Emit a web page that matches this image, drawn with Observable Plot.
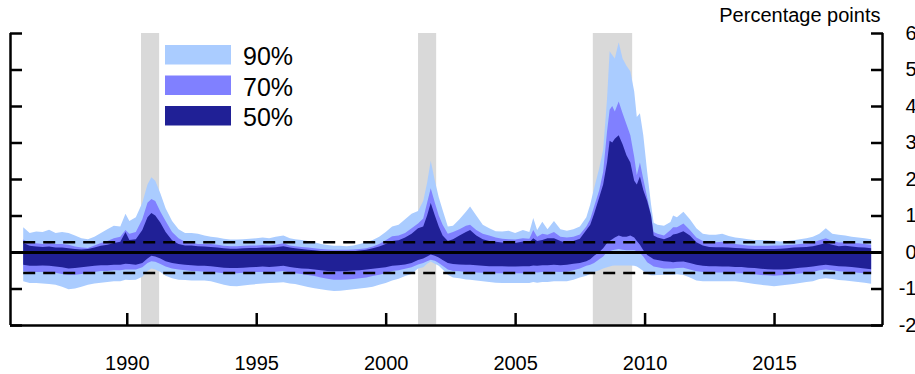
<!DOCTYPE html>
<html>
<head>
<meta charset="utf-8">
<script src="https://cdn.jsdelivr.net/npm/d3@7"></script>
<script src="https://cdn.jsdelivr.net/npm/@observablehq/plot@0.6"></script>
<style>
  body { margin: 0; background: #fff; }
  #wrap { position: relative; width: 915px; height: 374px; font-family: "Liberation Sans", Arial, sans-serif; }
  #legend { position: absolute; left: 0; top: 0; pointer-events: none; }
</style>
</head>
<body>
<div id="wrap"></div>
<script>
// ---- data ----
const t = [1986.0,1986.25,1986.5,1986.75,1987.0,1987.25,1987.5,1987.75,1988.0,1988.25,1988.5,1988.75,
1989.0,1989.25,1989.5,1989.75,1989.95,1990.1,1990.35,1990.6,1990.8,1990.95,1991.1,1991.3,1991.5,1991.75,
1992.0,1992.25,1992.5,1992.75,1993.0,1993.25,1993.5,1993.75,1994.0,1994.25,1994.5,1994.75,
1995.0,1995.25,1995.5,1995.75,1996.05,1996.3,1996.5,1996.75,1997.0,1997.25,1997.5,1997.75,
1998.0,1998.25,1998.5,1998.75,1999.0,1999.25,1999.5,1999.75,2000.0,2000.25,2000.5,2000.75,
2001.0,2001.25,2001.45,2001.6,2001.74,2001.9,2002.05,2002.2,2002.4,2002.6,2002.85,2003.1,2003.26,2003.5,2003.75,
2004.0,2004.25,2004.5,2004.75,2005.0,2005.3,2005.55,2005.7,2005.85,2006.05,2006.25,2006.5,2006.75,
2007.0,2007.25,2007.5,2007.75,2007.9,2008.05,2008.25,2008.4,2008.55,2008.65,2008.75,2008.85,2009.0,
2009.15,2009.3,2009.45,2009.6,2009.7,2009.82,2009.95,2010.1,2010.25,2010.35,2010.5,2010.75,
2011.0,2011.1,2011.25,2011.5,2011.75,2012.0,2012.25,2012.5,2012.75,2013.0,2013.25,2013.5,2013.75,
2014.0,2014.25,2014.5,2014.75,2015.0,2015.25,2015.5,2015.75,2016.0,2016.25,2016.5,2016.75,
2017.0,2017.25,2017.5,2017.75,2018.0,2018.25,2018.5,2018.75];

const upper90 = [0.68,0.52,0.56,0.55,0.61,0.52,0.55,0.52,0.45,0.38,0.35,0.42,
0.52,0.62,0.72,0.70,1.05,0.85,0.95,1.35,1.85,2.05,1.95,1.60,1.20,0.85,
0.62,0.52,0.52,0.50,0.45,0.42,0.40,0.36,0.34,0.34,0.35,0.36,
0.38,0.40,0.38,0.42,0.45,0.38,0.35,0.33,0.30,0.27,0.22,0.19,
0.17,0.17,0.16,0.18,0.22,0.27,0.33,0.42,0.55,0.70,0.75,0.90,
1.05,1.12,1.40,1.90,2.50,1.95,1.50,1.15,0.70,0.72,0.90,1.10,1.25,1.00,0.75,
0.65,0.57,0.56,0.58,0.52,0.60,0.55,0.93,0.60,0.83,0.62,0.85,0.62,
0.58,0.62,0.70,0.95,1.30,1.75,2.30,2.80,4.20,5.50,5.40,5.30,5.75,
5.30,5.10,4.95,4.40,3.70,3.80,3.20,2.20,1.30,0.80,0.75,0.72,
0.82,1.00,0.95,1.10,0.90,0.65,0.50,0.47,0.47,0.50,0.44,0.40,0.38,
0.35,0.33,0.33,0.32,0.31,0.29,0.30,0.32,0.35,0.38,0.42,0.50,
0.65,0.50,0.47,0.45,0.42,0.40,0.38,0.35];

const upper70 = [0.34,0.25,0.24,0.22,0.25,0.22,0.22,0.20,0.15,0.12,0.11,0.18,
0.25,0.30,0.38,0.42,0.60,0.50,0.55,0.90,1.35,1.45,1.40,1.10,0.85,0.55,
0.38,0.28,0.26,0.22,0.22,0.22,0.20,0.17,0.16,0.16,0.17,0.18,
0.18,0.19,0.18,0.20,0.24,0.18,0.16,0.14,0.12,0.10,0.08,0.07,
0.06,0.06,0.06,0.07,0.08,0.10,0.15,0.22,0.32,0.43,0.45,0.52,
0.65,0.78,0.92,1.35,1.75,1.35,1.00,0.75,0.50,0.55,0.62,0.72,0.75,0.60,0.50,
0.45,0.40,0.36,0.35,0.34,0.38,0.36,0.60,0.42,0.50,0.47,0.55,0.42,
0.40,0.42,0.48,0.70,0.90,1.25,1.70,2.20,3.30,3.90,4.00,3.85,4.12,
3.80,3.50,3.20,2.60,2.10,2.45,2.00,1.50,1.00,0.55,0.50,0.45,
0.60,0.68,0.68,0.78,0.60,0.40,0.30,0.26,0.27,0.28,0.24,0.22,0.20,
0.18,0.17,0.17,0.17,0.18,0.18,0.19,0.20,0.22,0.23,0.26,0.32,
0.38,0.30,0.26,0.27,0.25,0.24,0.22,0.20];

const upper50 = [0.25,0.17,0.15,0.14,0.15,0.12,0.12,0.10,0.08,0.07,0.08,0.12,
0.17,0.20,0.25,0.28,0.55,0.33,0.35,0.60,0.95,1.07,1.00,0.80,0.55,0.32,
0.22,0.18,0.18,0.16,0.15,0.14,0.12,0.10,0.09,0.09,0.10,0.11,
0.11,0.12,0.12,0.13,0.16,0.12,0.10,0.08,0.06,0.05,0.03,0.02,
0.01,0.01,0.01,0.02,0.04,0.06,0.10,0.15,0.22,0.30,0.32,0.40,
0.50,0.65,0.70,1.00,1.34,1.00,0.70,0.45,0.30,0.35,0.45,0.55,0.60,0.45,0.35,
0.30,0.28,0.26,0.25,0.25,0.29,0.27,0.38,0.30,0.33,0.38,0.38,0.30,
0.25,0.30,0.36,0.60,0.75,1.05,1.50,1.85,2.45,3.05,3.00,3.10,3.20,
2.95,2.65,2.45,1.95,1.85,2.07,1.70,1.40,1.00,0.45,0.40,0.35,
0.42,0.48,0.50,0.57,0.45,0.27,0.18,0.14,0.13,0.13,0.12,0.11,0.10,
0.09,0.08,0.08,0.08,0.08,0.09,0.10,0.12,0.13,0.14,0.16,0.20,
0.25,0.20,0.16,0.17,0.15,0.13,0.12,0.10];

const lower50 = [-0.35,-0.38,-0.38,-0.37,-0.38,-0.40,-0.42,-0.45,-0.44,-0.42,-0.40,-0.38,
-0.36,-0.36,-0.35,-0.35,-0.32,-0.33,-0.35,-0.30,-0.18,-0.10,-0.12,-0.18,-0.25,-0.30,
-0.33,-0.35,-0.36,-0.38,-0.38,-0.39,-0.41,-0.43,-0.44,-0.44,-0.43,-0.42,
-0.41,-0.40,-0.41,-0.40,-0.38,-0.41,-0.43,-0.45,-0.46,-0.48,-0.50,-0.52,
-0.53,-0.53,-0.52,-0.51,-0.50,-0.48,-0.46,-0.44,-0.42,-0.38,-0.36,-0.34,
-0.30,-0.22,-0.18,-0.12,-0.07,-0.10,-0.15,-0.22,-0.30,-0.33,-0.34,-0.35,-0.35,-0.36,-0.38,
-0.39,-0.39,-0.39,-0.40,-0.40,-0.39,-0.39,-0.37,-0.38,-0.36,-0.36,-0.35,-0.36,
-0.35,-0.32,-0.30,-0.25,-0.20,-0.10,0.00,0.10,0.25,0.30,0.35,0.40,0.45,
0.42,0.42,0.45,0.40,0.30,0.20,0.05,-0.08,-0.15,-0.20,-0.22,-0.25,
-0.27,-0.28,-0.27,-0.26,-0.30,-0.35,-0.38,-0.39,-0.39,-0.40,-0.40,-0.41,-0.41,
-0.43,-0.44,-0.46,-0.47,-0.48,-0.48,-0.47,-0.45,-0.43,-0.42,-0.40,-0.37,
-0.35,-0.37,-0.39,-0.40,-0.41,-0.43,-0.45,-0.47];

const lower70 = [-0.53,-0.55,-0.55,-0.55,-0.55,-0.57,-0.60,-0.62,-0.62,-0.60,-0.57,-0.55,
-0.52,-0.52,-0.50,-0.50,-0.48,-0.48,-0.48,-0.42,-0.30,-0.25,-0.27,-0.33,-0.40,-0.45,
-0.48,-0.50,-0.52,-0.53,-0.54,-0.55,-0.56,-0.58,-0.58,-0.58,-0.57,-0.56,
-0.55,-0.55,-0.55,-0.54,-0.52,-0.56,-0.58,-0.60,-0.63,-0.66,-0.70,-0.73,
-0.76,-0.76,-0.75,-0.74,-0.72,-0.70,-0.66,-0.62,-0.58,-0.52,-0.50,-0.46,
-0.42,-0.34,-0.30,-0.25,-0.21,-0.24,-0.30,-0.38,-0.48,-0.52,-0.53,-0.55,-0.55,-0.56,-0.57,
-0.58,-0.58,-0.58,-0.58,-0.58,-0.58,-0.58,-0.55,-0.56,-0.55,-0.55,-0.54,-0.55,
-0.54,-0.50,-0.45,-0.38,-0.35,-0.30,-0.20,-0.12,0.00,0.02,0.05,0.06,0.08,
0.06,0.05,0.05,0.05,0.02,-0.03,-0.12,-0.28,-0.35,-0.40,-0.42,-0.45,
-0.45,-0.45,-0.44,-0.43,-0.48,-0.53,-0.55,-0.56,-0.56,-0.56,-0.57,-0.58,-0.58,
-0.60,-0.61,-0.63,-0.64,-0.65,-0.64,-0.63,-0.61,-0.59,-0.57,-0.55,-0.50,
-0.48,-0.50,-0.53,-0.54,-0.55,-0.57,-0.58,-0.60];

const lower90 = [-0.80,-0.85,-0.85,-0.86,-0.88,-0.90,-0.95,-1.02,-1.00,-0.95,-0.90,-0.86,
-0.84,-0.82,-0.80,-0.80,-0.76,-0.77,-0.76,-0.68,-0.52,-0.45,-0.48,-0.55,-0.65,-0.72,
-0.76,-0.77,-0.78,-0.78,-0.78,-0.80,-0.85,-0.90,-0.93,-0.94,-0.92,-0.90,
-0.88,-0.86,-0.85,-0.84,-0.83,-0.86,-0.88,-0.92,-0.96,-0.99,-1.02,-1.05,
-1.07,-1.06,-1.04,-1.02,-1.00,-0.98,-0.95,-0.90,-0.85,-0.78,-0.73,-0.66,
-0.60,-0.45,-0.42,-0.32,-0.26,-0.32,-0.38,-0.48,-0.62,-0.70,-0.72,-0.75,-0.76,-0.78,-0.80,
-0.82,-0.84,-0.85,-0.85,-0.85,-0.85,-0.85,-0.82,-0.84,-0.82,-0.82,-0.80,-0.80,
-0.80,-0.76,-0.70,-0.65,-0.60,-0.55,-0.50,-0.45,-0.42,-0.40,-0.38,-0.37,-0.37,
-0.37,-0.37,-0.37,-0.38,-0.40,-0.45,-0.52,-0.60,-0.64,-0.64,-0.63,-0.62,
-0.62,-0.62,-0.61,-0.63,-0.70,-0.78,-0.80,-0.80,-0.80,-0.80,-0.80,-0.80,-0.82,
-0.85,-0.88,-0.90,-0.92,-0.94,-0.92,-0.90,-0.88,-0.85,-0.82,-0.80,-0.74,
-0.72,-0.74,-0.77,-0.78,-0.80,-0.82,-0.84,-0.87];

const recessionStart = [1990.55, 2001.25, 2008.0];
const recessionEnd   = [1991.25, 2001.95, 2009.52];

const bandLabels = ["90%", "70%", "50%"];
const bandColors = ["#aaccff", "#8080ff", "#202096"];

const xTicks = [1990, 1995, 2000, 2005, 2010, 2015];
const yTicks = [-2, -1, 0, 1, 2, 3, 4, 5, 6];
const thresholds = [0.28, -0.56];
const xDomain = [1985.49, 2019.17];
const yDomain = [-2, 6];
const unitLabel = "Percentage points";

// ---- build table ----
const data = t.map((d, i) => ({
  t: d, u90: upper90[i], u70: upper70[i], u50: upper50[i],
  l50: lower50[i], l70: lower70[i], l90: lower90[i]
}));
const recessions = recessionStart.map((s, i) => ({s, e: recessionEnd[i]}));
const tFirst = t[0], tLast = t[t.length - 1];

const chart = Plot.plot({
  width: 915,
  height: 374,
  marginTop: 33,
  marginBottom: 49,
  marginLeft: 10,
  marginRight: 33,
  style: {fontFamily: "Liberation Sans, Arial, sans-serif", fontSize: "20px", color: "black", background: "white"},
  x: {domain: xDomain, axis: null},
  y: {domain: yDomain, axis: null},
  marks: [
    Plot.rectX(recessions, {x1: "s", x2: "e", fill: "#d9d9d9"}),
    Plot.areaY(data, {x: "t", y1: "l90", y2: "u90", fill: bandColors[0]}),
    Plot.areaY(data, {x: "t", y1: "l70", y2: "u70", fill: bandColors[1]}),
    Plot.areaY(data, {x: "t", y1: "l50", y2: "u50", fill: bandColors[2]}),
    Plot.ruleY([0], {stroke: "black", strokeWidth: 3}),
    Plot.ruleY(thresholds, {x1: tFirst, x2: tLast, stroke: "black", strokeWidth: 2.5, strokeDasharray: "12,8"}),
    // frame lines
    Plot.ruleY([yDomain[0]], {stroke: "black", strokeWidth: 2.5}),
    Plot.ruleX([xDomain[0], xDomain[1]], {stroke: "black", strokeWidth: 2.5}),
    // inward ticks
    Plot.axisX(xTicks, {anchor: "bottom", tickSize: -12, strokeWidth: 2.5, tickFormat: () => "", label: null}),
    Plot.axisX(xTicks, {anchor: "bottom", tickSize: 0, tickPadding: 30, tickFormat: d => String(d), label: null, fontSize: 20}),
    Plot.axisY(yTicks, {anchor: "left", tickSize: -12, strokeWidth: 2.5, tickFormat: () => "", label: null}),
    Plot.axisY(yTicks, {anchor: "right", tickSize: -12, strokeWidth: 2.5, tickFormat: () => "", label: null}),
    Plot.axisY(yTicks, {anchor: "right", tickSize: 0, tickPadding: 34, textAnchor: "end", tickFormat: d => String(d), label: null, fontSize: 20}),
    Plot.text([unitLabel], {frameAnchor: "top-right", textAnchor: "end", lineAnchor: "bottom", dx: -2, dy: -12, fontSize: 20, fill: "black"})
  ]
});
const wrap = document.getElementById("wrap");
wrap.appendChild(chart);

// legend overlay (inside the plot area, as in the reference)
const leg = d3.select(wrap).append("svg").attr("id", "legend").attr("width", 915).attr("height", 374);
const order = [0, 1, 2];
const g = leg.selectAll("g").data(order).join("g")
  .attr("transform", (d, i) => `translate(165,${45 + i * 30.5})`);
g.append("rect").attr("width", 66).attr("height", 19.5).attr("fill", d => bandColors[d]);
g.append("text").attr("x", 78).attr("y", 20).attr("font-size", 25)
  .attr("font-family", "Liberation Sans, Arial, sans-serif").attr("fill", "black")
  .text(d => bandLabels[d]);
</script>
</body>
</html>
